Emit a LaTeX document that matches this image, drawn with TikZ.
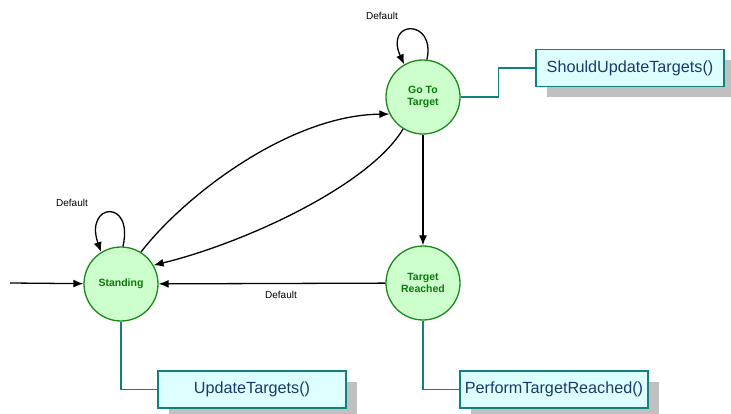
\documentclass[tikz,border=0pt]{standalone}
\usepackage{fontspec}
\setmainfont{Liberation Sans}
\usetikzlibrary{arrows.meta,shadows}
\definecolor{stfill}{HTML}{CCFFCC}
\definecolor{stdraw}{HTML}{1A8A1A}
\definecolor{sttext}{HTML}{0A7A0A}
\definecolor{bxfill}{HTML}{DDFFFF}
\definecolor{bxdraw}{HTML}{108080}
\definecolor{bxtext}{HTML}{1A3A6A}
\definecolor{shade}{HTML}{C0C0C0}
\tikzset{
  state/.style={circle, draw=stdraw, fill=stfill, line width=1.3pt,
    minimum size=74pt, inner sep=0pt, align=center,
    font=\fontsize{10.5}{12}\selectfont\bfseries, text=sttext},
  action/.style={rectangle, draw=bxdraw, fill=bxfill, line width=1.2pt,
    minimum width=188pt, minimum height=37pt, inner sep=0pt,
    font=\fontsize{16.2}{18}\selectfont, text=bxtext,
    drop shadow={shadow xshift=11pt, shadow yshift=-11pt, fill=shade, opacity=1}},
  arr/.style={draw=black, line width=1.3pt, -{Latex[length=10pt,width=8pt]}},
  conn/.style={draw=bxdraw, line width=1.2pt},
  lbl/.style={font=\fontsize{10}{12}\selectfont, inner sep=0pt}
}
\begin{document}
\begin{tikzpicture}[x=1pt, y=-1pt]
\useasboundingbox (0,0) rectangle (731,414);

% states
\node[state] (stand) at (121,284) {Standing};
\node[state] (go) at (423,97) {Go To\\Target};
\node[state] (reach) at (423,283) {Target\\Reached};

% action boxes
\node[action] (should) at (630,68) {ShouldUpdateTargets()};
\node[action] (upd) at (252,389.5) {UpdateTargets()};
\node[action] (perf) at (554,389.5) {PerformTargetReached()};

% initial transition
\coordinate (init) at (10,283);
\draw[arr] (init) -- (stand);

% transitions
\draw[arr] (stand.58) .. controls (185,195) and (290,115) .. (go.207);
\draw[arr] (go.238) .. controls (370,185) and (245,243) .. (stand.30);
\draw[arr] (go) -- (reach);
\draw[arr] (reach) -- (stand);
\node[lbl] (lreach) at (281,295) {Default};

% self loops
\draw[arr] (stand.87) .. controls (134,198) and (84,203) .. (stand.122);
\node[lbl] (lstand) at (72,203) {Default};
\draw[arr] (go.84) .. controls (436,18) and (384,20) .. (go.120);
\node[lbl] (lgo) at (382,16) {Default};

% action connectors
\draw[conn] (go.east) -- ++(38,0) |- (should.west);
\draw[conn] (stand.south) |- (upd.west);
\draw[conn] (reach.south) |- (perf.west);
\end{tikzpicture}
\end{document}
